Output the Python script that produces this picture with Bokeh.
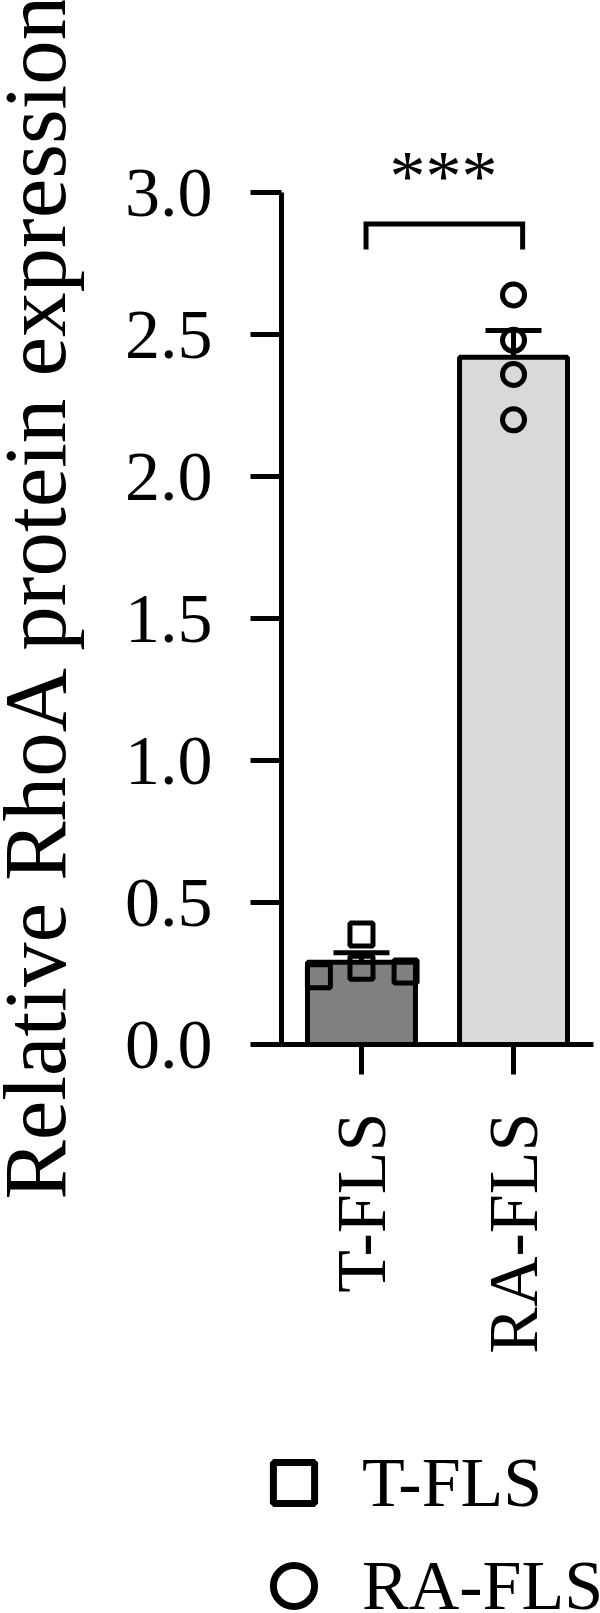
import math
from bokeh.plotting import figure
from bokeh.layouts import row, column
from bokeh.models import (FactorRange, Range1d, FixedTicker, PrintfTickFormatter, Whisker,
                          TeeHead, ColumnDataSource, Label, Legend, LegendItem)
from bokeh.embed import file_html
from bokeh.resources import INLINE

# ---------------- data ----------------
categories = ["T-FLS", "RA-FLS"]
bar_means = [0.29, 2.42]
bar_sem = [0.033, 0.095]
bar_colors = ["#808080", "#d9d9d9"]

t_fls_values = [0.24, 0.27, 0.387, 0.257]
t_fls_offsets = [-0.28, 0.0, 0.0, 0.29]
ra_fls_values = [2.64, 2.48, 2.36, 2.20]
ra_fls_offsets = [0.0, 0.0, 0.0, 0.0]

y_ticks = [0.0, 0.5, 1.0, 1.5, 2.0, 2.5, 3.0]
bracket_low = 2.80
bracket_high = 2.89
star_level = 3.06
significance = "***"
y_title = "Relative RhoA protein expression"

FONT = "Liberation Serif"

# ---------------- y-axis title panel ----------------
tp = figure(width=90, height=1400, x_range=Range1d(0, 90), y_range=Range1d(1400, 0),
            output_backend="svg", toolbar_location=None,
            x_axis_type=None, y_axis_type=None,
            min_border_left=0, min_border_right=0, min_border_top=0, min_border_bottom=0)
tp.outline_line_color = None
tp.grid.visible = False
tp.add_layout(Label(x=34, y=1199, text=y_title, angle=math.pi / 2,
                    text_align="left", text_baseline="alphabetic",
                    text_font=FONT, text_font_size="89px", text_color="black"))

# ---------------- main chart ----------------
p = figure(width=510, height=1400,
           x_range=FactorRange(factors=categories, range_padding=0.026),
           y_range=Range1d(0, 3.3),
           output_backend="svg", toolbar_location=None,
           min_border_left=191, min_border_right=7, min_border_top=107, min_border_bottom=356)
p.outline_line_color = None
p.grid.visible = False

bar_src = ColumnDataSource(dict(
    x=categories, top=bar_means, color=bar_colors,
    upper=[m + s for m, s in zip(bar_means, bar_sem)],
    lower=[m - s for m, s in zip(bar_means, bar_sem)],
))
p.vbar(x="x", top="top", width=0.71, fill_color="color", line_color="black",
       line_width=5, source=bar_src)

whisker = Whisker(base="x", upper="upper", lower="lower", source=bar_src,
                  line_width=5, line_color="black",
                  upper_head=TeeHead(size=56, line_width=5, line_color="black"),
                  lower_head=TeeHead(size=56, line_width=5, line_color="black"))
p.add_layout(whisker)

t_src = ColumnDataSource(dict(x=[(categories[0], o) for o in t_fls_offsets], y=t_fls_values))
r_src = ColumnDataSource(dict(x=[(categories[1], o) for o in ra_fls_offsets], y=ra_fls_values))
p.scatter("x", "y", source=t_src, marker="square", size=23, fill_color=None,
          line_color="black", line_width=5)
p.scatter("x", "y", source=r_src, marker="circle", size=22, fill_color=None,
          line_color="black", line_width=5)

# significance bracket
p.line(x=[(categories[0], 0.03), (categories[0], 0.03), (categories[1], 0.06), (categories[1], 0.06)],
       y=[bracket_low, bracket_high, bracket_high, bracket_low],
       line_color="black", line_width=5, line_join="miter")
p.add_layout(Label(x=1.0, y=star_level, text=significance, text_align="center",
                   text_baseline="alphabetic", text_font=FONT, text_font_size="72px",
                   x_offset=6, text_color="black"))

for ax in p.axis:
    ax.axis_line_width = 5
    ax.axis_line_color = "black"
    ax.major_tick_line_width = 5
    ax.major_tick_line_color = "black"
    ax.major_tick_in = 0
    ax.minor_tick_line_color = None
    ax.major_label_text_font = FONT
    ax.major_label_text_font_size = "70px"
    ax.major_label_text_color = "black"

p.yaxis.ticker = FixedTicker(ticks=y_ticks)
p.yaxis.formatter = PrintfTickFormatter(format="%.1f")
p.yaxis.bounds = (0, 3)
p.yaxis.major_tick_out = 31
p.yaxis.major_label_standoff = 38

p.xaxis.major_tick_out = 30
p.xaxis.major_label_standoff = 38
p.xaxis.major_label_orientation = math.pi / 2

# ---------------- legend panel ----------------
# the group markers reuse the data sources but lie outside this panel's y range
lp = figure(width=600, height=213, output_backend="svg", toolbar_location=None,
            x_range=FactorRange(factors=categories), y_range=Range1d(10, 11),
            x_axis_type=None, y_axis_type=None,
            min_border_left=236, min_border_right=0, min_border_top=31, min_border_bottom=0)
lp.outline_line_color = None
lp.grid.visible = False
lg_t = lp.scatter("x", "y", source=t_src, marker="square", size=23, fill_color=None,
                  line_color="black", line_width=7)
lg_r = lp.scatter("x", "y", source=r_src, marker="circle", size=22, fill_color=None,
                  line_color="black", line_width=7)
legend = Legend(items=[LegendItem(label=categories[0], renderers=[lg_t]),
                       LegendItem(label=categories[1], renderers=[lg_r])],
                location="top_left", orientation="vertical",
                glyph_width=115, glyph_height=103, spacing=0, label_standoff=11,
                padding=0, margin=0, border_line_color=None, background_fill_alpha=0,
                label_text_font=FONT, label_text_font_size="70px",
                label_text_baseline="middle", label_text_color="black")
lp.add_layout(legend)

# the title panel is wrapped in its own column so that its frame is not
# aligned to the chart's frame
layout = column(row(column(tp, spacing=0), p, spacing=0), lp, spacing=0)
open("out.html", "w").write(file_html(layout, INLINE))
